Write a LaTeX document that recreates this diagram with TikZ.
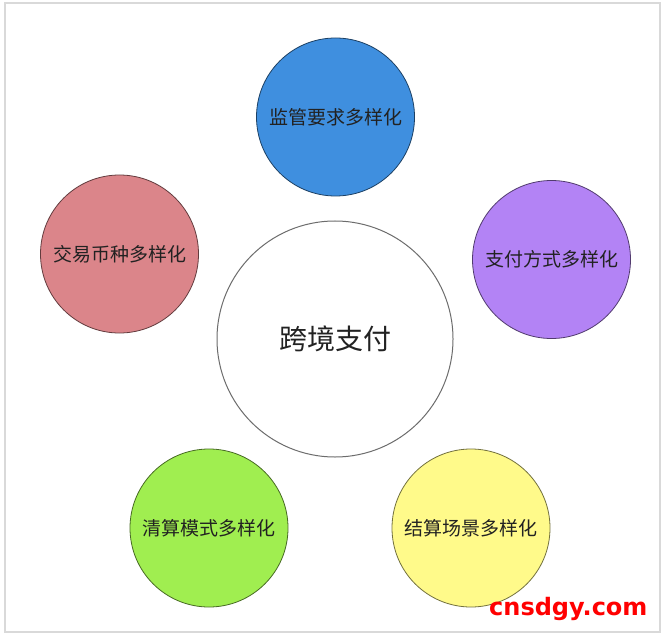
\documentclass[tikz,border=0pt]{standalone}
\usepackage{fontspec}
\newfontfamily\cjk{Noto Sans CJK SC}
\newfontfamily\wmfont{DejaVu Sans}
\definecolor{cblue}{HTML}{3F8FDF}
\definecolor{cred}{HTML}{DB858A}
\definecolor{cpurple}{HTML}{B383F5}
\definecolor{cgreen}{HTML}{A0EE50}
\definecolor{cyellow}{HTML}{FFFA8A}
\definecolor{frame}{HTML}{D9D9D9}
\definecolor{txt}{HTML}{222222}
\definecolor{wmred}{HTML}{FF0000}
\tikzset{
  outer/.style={circle, minimum size=158pt, inner sep=0pt, draw=#1!45!black, line width=0.8pt, fill=#1,
    font=\cjk\fontsize{19}{23}\selectfont, text=txt},
  hub/.style={circle, minimum size=236pt, inner sep=0pt, draw=gray!85!black, line width=1pt, fill=white,
    font=\cjk\fontsize{28}{34}\selectfont, text=txt},
  wmark/.style={font=\wmfont\bfseries\fontsize{24}{28}\selectfont, text=wmred, inner sep=0pt}
}
\begin{document}
\begin{tikzpicture}[x=1pt,y=-1pt]
\useasboundingbox (0,0) rectangle (663,636);
\fill[white] (0,0) rectangle (663,636);
\draw[frame, line width=1.5pt] (5,3) rectangle (660,632);
\node[hub] (hub) at (335,339) {跨境支付};
\node[outer=cblue] (jg) at (335.5,117) {监管要求多样化};
\node[outer=cred] (bz) at (119.5,254) {交易币种多样化};
\node[outer=cpurple] (zf) at (551.5,259.5) {支付方式多样化};
\node[outer=cgreen] (qs) at (209,528) {清算模式多样化};
\node[outer=cyellow] (js) at (471,528) {结算场景多样化};
\node[wmark, anchor=base west] (wm) at (489,615) {cnsdgy.com};
\end{tikzpicture}
\end{document}
